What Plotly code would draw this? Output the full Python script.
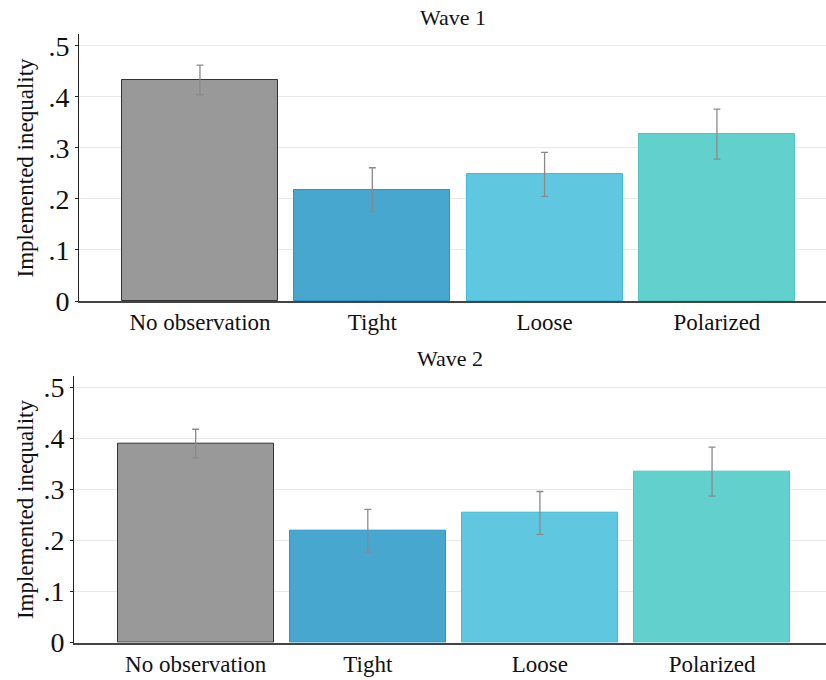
import plotly.graph_objects as go

# Treatment conditions and mean implemented inequality with error-bar half-widths
categories = ["No observation", "Tight", "Loose", "Polarized"]
wave1_means = [0.433, 0.218, 0.248, 0.327]
wave1_err = [0.029, 0.043, 0.043, 0.049]
wave2_means = [0.390, 0.219, 0.254, 0.335]
wave2_err = [0.028, 0.042, 0.042, 0.048]
panel_titles = ["Wave 1", "Wave 2"]
y_tickvals = [0, 0.1, 0.2, 0.3, 0.4, 0.5]
y_ticktext = ["0", ".1", ".2", ".3", ".4", ".5"]

fill_colors = ["#999999", "#47a7cf", "#5fc8e0", "#62d0cc"]
line_colors = ["#333333", "#2a96c6", "#3cbcd9", "#4bc8c2"]

W, H = 826, 680
FONT = "'Liberation Serif', 'Times New Roman', Times, serif"

fig = go.Figure()

for i, (means, errs) in enumerate([(wave1_means, wave1_err), (wave2_means, wave2_err)]):
    suffix = "" if i == 0 else "2"
    fig.add_trace(go.Bar(
        x=list(range(len(categories))),
        y=means,
        width=0.905,
        marker=dict(color=fill_colors, line=dict(color=line_colors, width=1)),
        error_y=dict(type="data", array=errs, visible=True,
                     color="#8a8a8a", thickness=1.3, width=3.5),
        xaxis="x" + suffix,
        yaxis="y" + suffix,
        showlegend=False,
        hoverinfo="skip",
    ))

# pixel geometry of the two panels
top = dict(left=79, y0=34, y1=301, xr=[-0.702, 3.633])
bot = dict(left=74, y0=375.7, y1=642.5, xr=[-0.707, 3.662])

def xaxis_cfg(p):
    return dict(
        domain=[p["left"] / W, 1],
        range=p["xr"],
        automargin=False,
        tickmode="array",
        tickvals=list(range(len(categories))),
        ticktext=categories,
        tickfont=dict(family=FONT, size=23, color="#111111"),
        showgrid=False,
        zeroline=False,
        showline=True,
        linecolor="#444444",
        linewidth=1.5,
        ticks="",
        fixedrange=True,
    )

def yaxis_cfg(p, anchor):
    return dict(
        domain=[1 - p["y1"] / H, 1 - p["y0"] / H],
        range=[0, 0.523],
        anchor=anchor,
        automargin=False,
        tickmode="array",
        tickvals=y_tickvals,
        ticktext=y_ticktext,
        tickfont=dict(family=FONT, size=28, color="#111111"),
        showgrid=True,
        gridcolor="#e9e9e9",
        gridwidth=1,
        zeroline=False,
        showline=True,
        linecolor="#222222",
        linewidth=1,
        ticks="outside",
        ticklen=3,
        tickcolor="#222222",
        fixedrange=True,
    )

fig.update_layout(
    template="none",
    width=W,
    height=H,
    margin=dict(l=0, r=0, t=0, b=0, pad=0),
    paper_bgcolor="white",
    plot_bgcolor="white",
    bargap=0,
    xaxis=dict(xaxis_cfg(top), anchor="y"),
    yaxis=yaxis_cfg(top, "x"),
    xaxis2=dict(xaxis_cfg(bot), anchor="y2"),
    yaxis2=yaxis_cfg(bot, "x2"),
    font=dict(family=FONT, color="#111111"),
)

annotations = []
for p, title in zip([top, bot], panel_titles):
    cx = (p["left"] + W) / 2 / W
    annotations.append(dict(
        text=title, xref="paper", yref="paper",
        x=cx, y=1 - (p["y0"] - 17) / H,
        xanchor="center", yanchor="middle", showarrow=False,
        font=dict(family=FONT, size=22, color="#111111"),
    ))
    annotations.append(dict(
        text="Implemented inequality", xref="paper", yref="paper",
        x=25 / W, y=1 - (p["y0"] + p["y1"]) / 2 / H,
        xanchor="center", yanchor="middle", showarrow=False, textangle=-90,
        font=dict(family=FONT, size=23, color="#111111"),
    ))
fig.update_layout(annotations=annotations)

fig.write_html("out.html")
